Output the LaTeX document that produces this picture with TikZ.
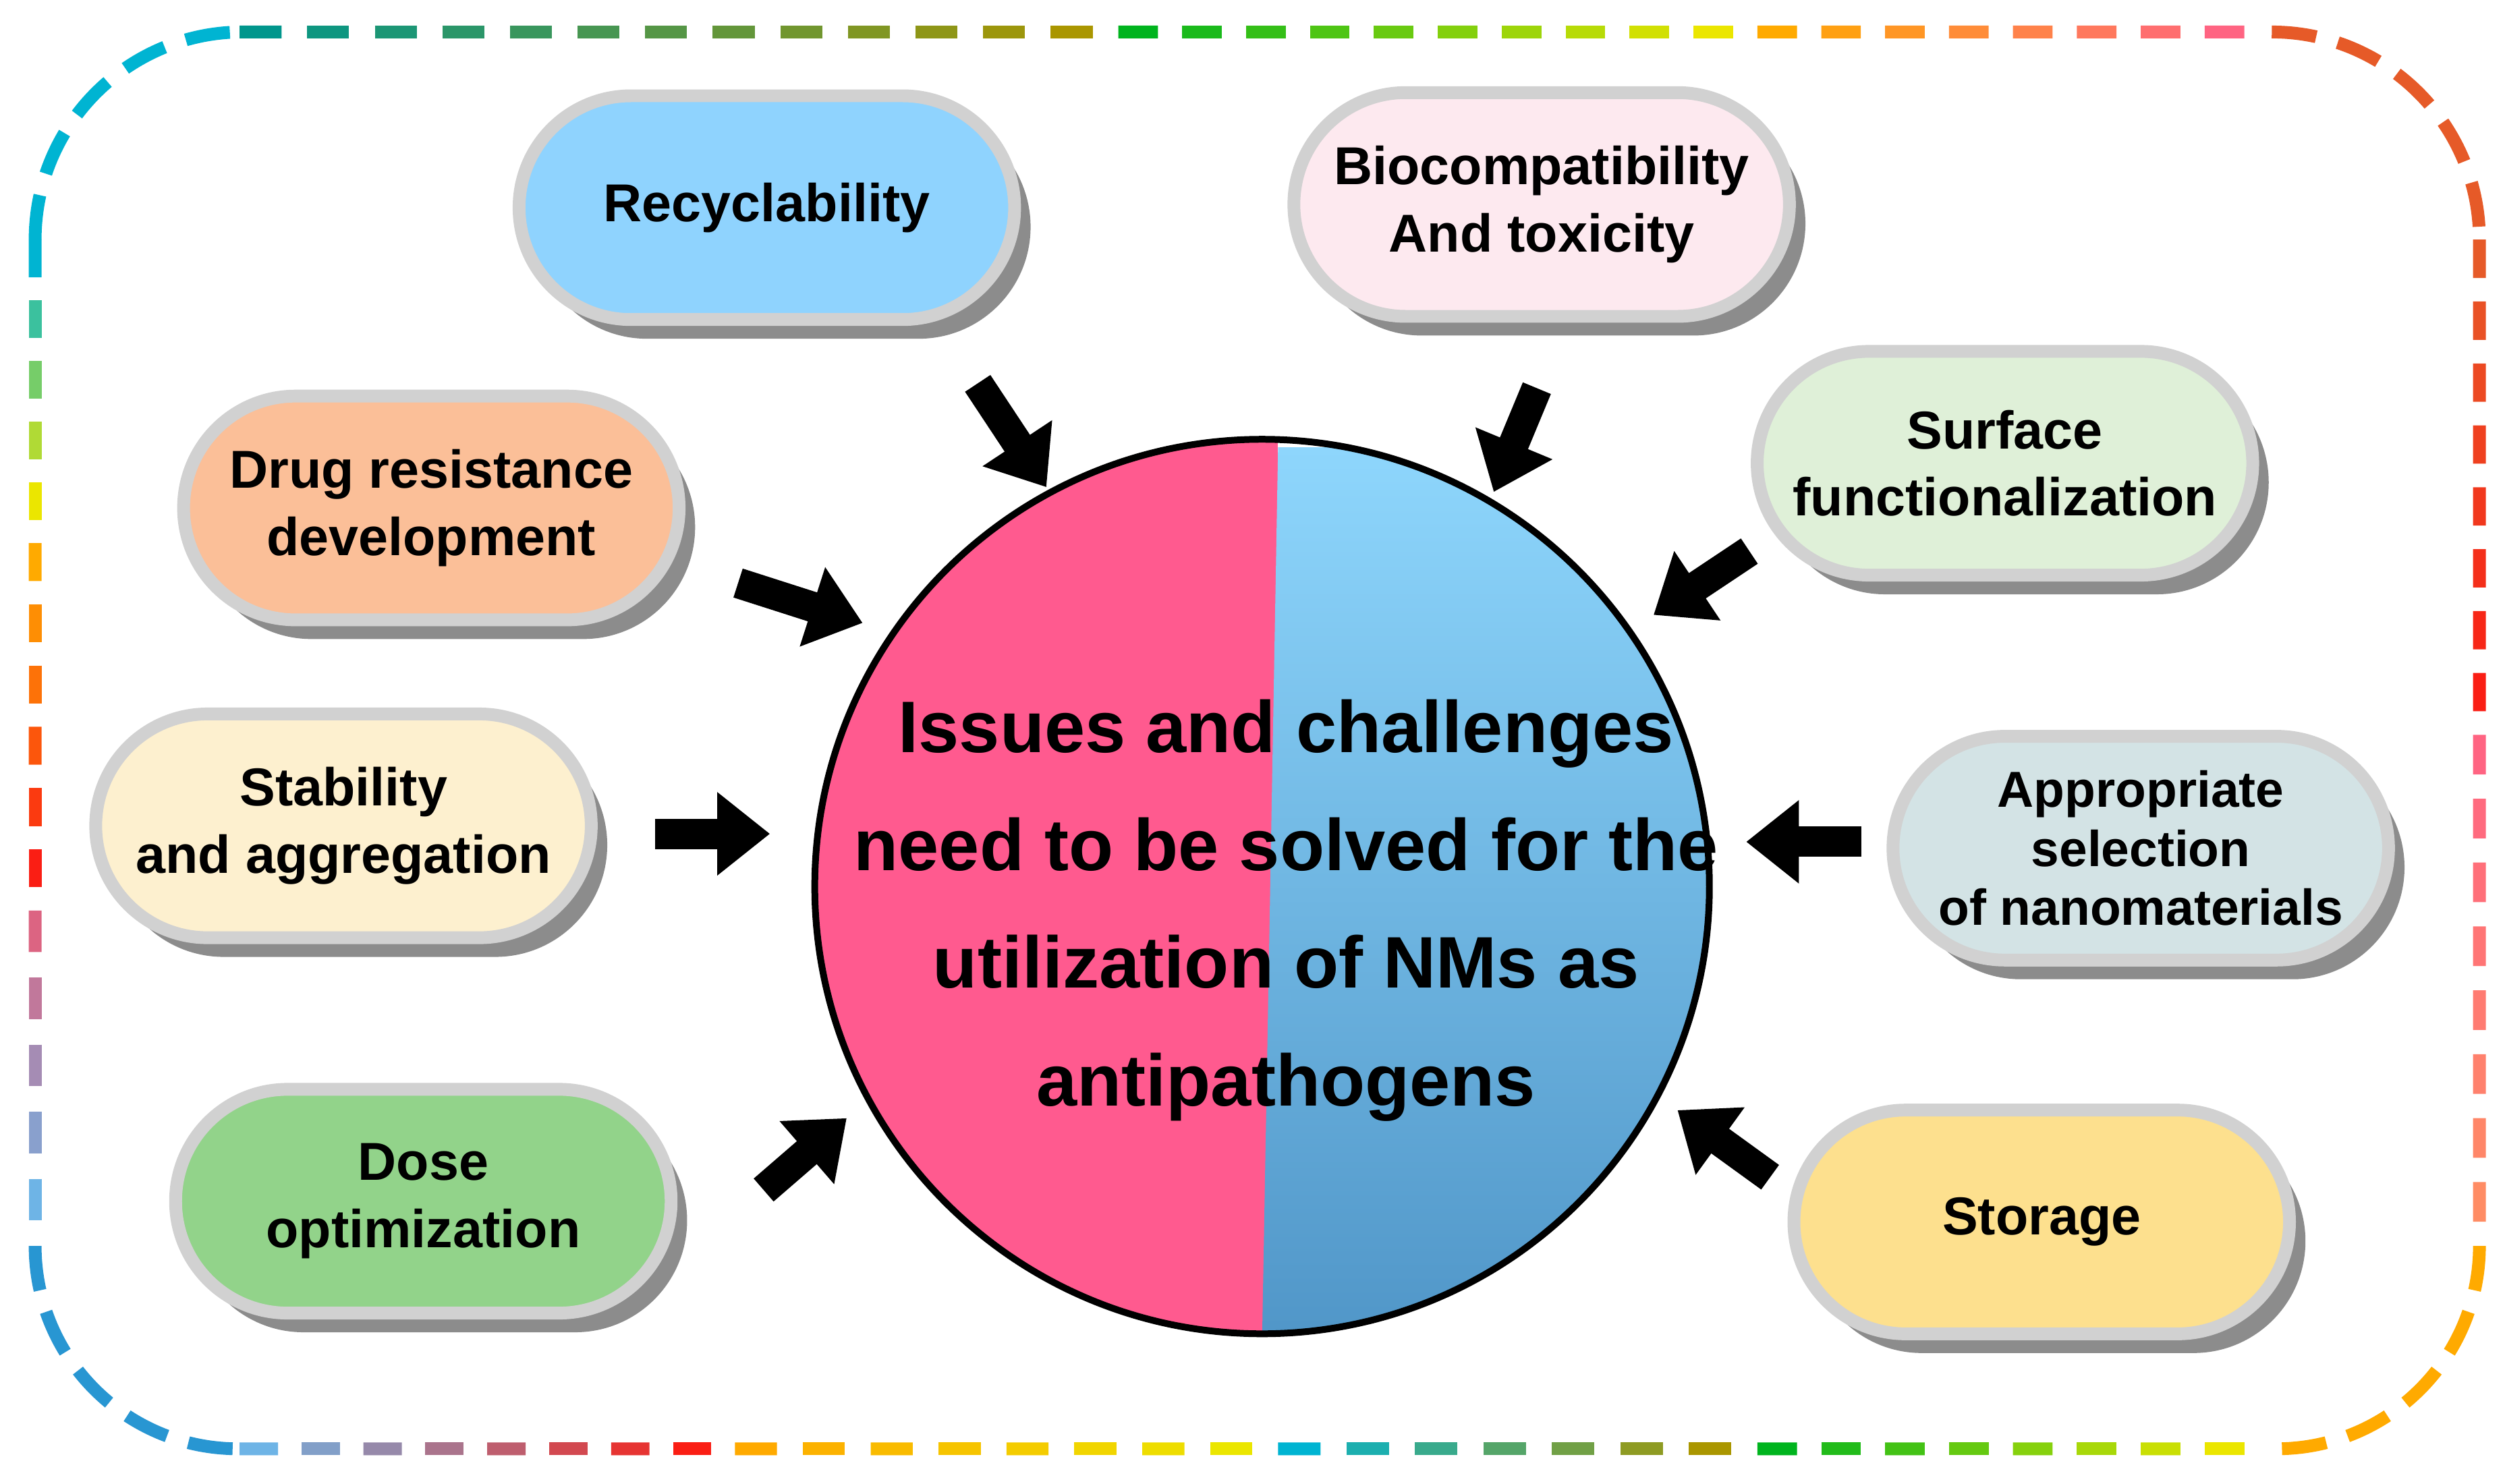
\documentclass[tikz,border=0pt]{standalone}
\usepackage{fontspec}
\setmainfont{Liberation Sans}
\usetikzlibrary{calc,shadows,arrows.meta}
\definecolor{cTeal}{RGB}{0,150,140}
\definecolor{cOlive}{RGB}{170,150,0}
\definecolor{cGreen}{RGB}{0,180,30}
\definecolor{cOrange}{RGB}{255,170,0}
\definecolor{cPink}{RGB}{255,100,130}
\definecolor{cCyan}{RGB}{0,180,210}
\definecolor{cYellow}{RGB}{235,230,0}
\definecolor{cRed}{RGB}{250,30,20}
\definecolor{cRose}{RGB}{220,100,130}
\definecolor{cLBlue}{RGB}{110,180,230}
\definecolor{cBlue}{RGB}{40,150,210}
\definecolor{cRO}{RGB}{230,90,40}
\definecolor{cSalmon}{RGB}{255,140,100}
\definecolor{pinkHalf}{RGB}{255,90,143}
\definecolor{blueTop}{RGB}{142,214,252}
\definecolor{blueBot}{RGB}{80,150,200}
\newcommand\bdash[5]{%
  \foreach \i in {0,...,#3}{%
    \pgfmathsetmacro\t{100*\i/#3}%
    \pgfmathsetmacro\s{\i/(#3+1)}%
    \pgfmathsetmacro\e{(\i+0.62)/(#3+1)}%
    \colorlet{dc}{#5!\t!#4}%
    \draw[dc,line width=0.08cm] ($(#1)!\s!(#2)$) -- ($(#1)!\e!(#2)$);
  }}
\tikzset{
  pill/.style={draw=black!18,line width=0.08cm,rounded corners=0.7cm,
    minimum width=3.1cm,minimum height=1.4cm,align=center,
    font=\fontsize{9.5}{12}\selectfont\bfseries,
    drop shadow={shadow xshift=0.1cm,shadow yshift=-0.12cm,fill=black!45,opacity=1}},
  barrow/.style={-{Triangle[width=0.5cm,length=0.33cm]},line width=0.19cm,black}
}
\begin{document}
\begin{tikzpicture}[x=0.01cm,y=-0.01cm]
\useasboundingbox (0,0) rectangle (1568,929);
\fill[white] (0,0) rectangle (1568,929);
% border
\bdash{150,20}{700,20}{12}{cTeal}{cOlive}
\bdash{700,20}{1100,20}{9}{cGreen}{cYellow}
\bdash{1100,20}{1420,20}{7}{cOrange}{cPink}
\bdash{22,150}{22,340}{4}{cCyan}{cYellow}
\bdash{22,340}{22,570}{5}{cOrange}{cRed}
\bdash{22,570}{22,780}{4}{cRose}{cLBlue}
\bdash{150,907}{460,907}{7}{cLBlue}{cRed}
\bdash{460,907}{800,907}{7}{cOrange}{cYellow}
\bdash{800,907}{1100,907}{6}{cCyan}{cOlive}
\bdash{1100,907}{1420,907}{7}{cGreen}{cYellow}
\bdash{1552,150}{1552,460}{7}{cRO}{cRed}
\bdash{1552,460}{1552,780}{7}{cPink}{cSalmon}
\draw[cCyan,line width=0.08cm,dash pattern=on 0.28cm off 0.14cm] (22,150) arc[start angle=180,end angle=270,radius=130];
\draw[cRO,line width=0.08cm,dash pattern=on 0.28cm off 0.14cm] (1422,20) arc[start angle=270,end angle=360,radius=130];
\draw[cBlue,line width=0.08cm,dash pattern=on 0.28cm off 0.14cm] (22,780) arc[start angle=180,end angle=90,radius=127];
\draw[cOrange,line width=0.08cm,dash pattern=on 0.28cm off 0.14cm] (1552,780) arc[start angle=0,end angle=90,radius=127];
% circle
\begin{scope}
\clip (790,555) circle (280);
\fill[pinkHalf] (500,260) rectangle (800,850);
\shade[top color=blueTop,bottom color=blueBot] (800,280) -- (1080,280) -- (1080,840) -- (790,840) -- cycle;
\end{scope}
\draw[line width=1.2pt] (790,555) circle (280);
\node (c) at (805,570) [align=center,font=\fontsize{13}{21}\selectfont\bfseries]
 {Issues and challenges\\need to be solved for the\\utilization of NMs as\\antipathogens};
% pills
\node[pill,fill={rgb,255:red,143;green,211;blue,254}] (rec) at (480,130) {Recyclability};
\node[pill,fill={rgb,255:red,253;green,233;blue,239}] (bio) at (965,128) {Biocompatibility\\And toxicity};
\node[pill,fill={rgb,255:red,251;green,191;blue,152}] (drug) at (270,318) {Drug resistance\\development};
\node[pill,fill={rgb,255:red,223;green,240;blue,216}] (surf) at (1255,290) {Surface\\functionalization};
\node[pill,fill={rgb,255:red,253;green,240;blue,207}] (stab) at (215,517) {Stability\\and aggregation};
\node[pill,fill={rgb,255:red,211;green,227;blue,229},font=\fontsize{9}{10.5}\selectfont\bfseries] (appr) at (1340,531) {Appropriate\\selection\\of nanomaterials};
\node[pill,fill={rgb,255:red,146;green,211;blue,138}] (dose) at (265,752) {Dose\\optimization};
\node[pill,fill={rgb,255:red,253;green,224;blue,142}] (stor) at (1278,765) {Storage};
% arrows
\coordinate (a1) at (612,240); \coordinate (b1) at (655,305);
\coordinate (a2) at (962,243); \coordinate (b2) at (935,308);
\coordinate (a3) at (1095,345); \coordinate (b3) at (1035,385);
\coordinate (a4) at (462,365); \coordinate (b4) at (540,390);
\coordinate (a5) at (410,522); \coordinate (b5) at (482,522);
\coordinate (a6) at (1165,527); \coordinate (b6) at (1093,527);
\coordinate (a7) at (478,745); \coordinate (b7) at (530,700);
\coordinate (a8) at (1108,737); \coordinate (b8) at (1050,695);
\foreach \k in {1,...,8} \draw[barrow] (a\k) -- (b\k);
\end{tikzpicture}
\end{document}
